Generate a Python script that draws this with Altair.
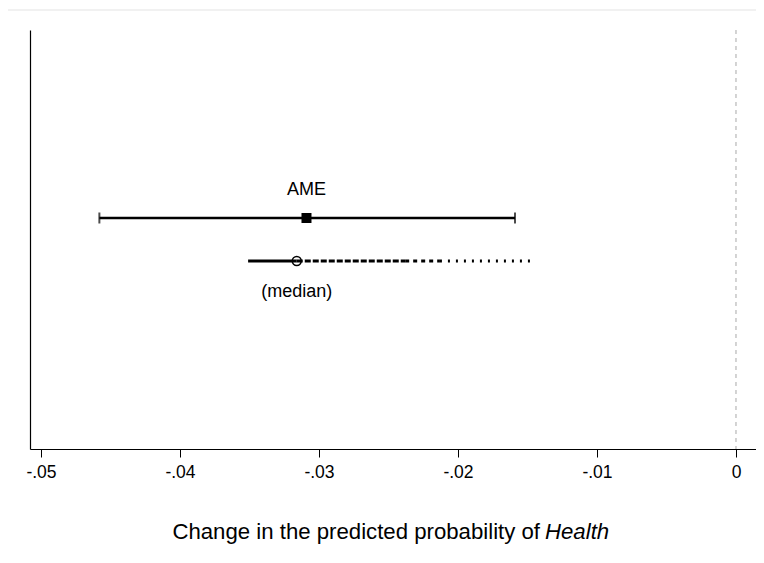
import altair as alt
import pandas as pd

# --- data ---
rows = ["AME", "(median)"]
row_pos = [2, 1]
est = [-0.0309, -0.0316]
lo = [-0.0458, -0.0351]
hi = [-0.0159, -0.0146]

# median interval drawn as segments of decreasing density
seg_from = [-0.0351, -0.0316, -0.0238, -0.0213]
seg_to = [-0.0316, -0.0238, -0.0213, -0.0146]
seg_style = ["solid", "dense", "sparse", "dotted"]

ticks = [-0.05, -0.04, -0.03, -0.02, -0.01, 0.0]
title_plain = "Change in the predicted probability of"
title_italic = "Health"

FONT = "Liberation Sans"

pts = pd.DataFrame({"row": rows, "y": row_pos, "est": est, "lo": lo, "hi": hi})
ame = pts[pts.row == "AME"]
med = pts[pts.row == "(median)"]
segs = pd.DataFrame({"x": seg_from, "x2": seg_to, "style": seg_style, "y": [1] * 4})

xscale = alt.Scale(domain=[-0.050791, 0.001439], nice=False, zero=False)
yscale = alt.Scale(domain=[-3.37, 6.37], nice=False, zero=False)

X = lambda f: alt.X(
    f,
    type="quantitative",
    scale=xscale,
    axis=alt.Axis(
        values=ticks,
        labelExpr="datum.value == 0 ? '0' : '-' + replace(format(abs(datum.value), '.2f'), '0.', '.')",
        title=None,
        grid=False,
        tickSize=8,
        tickColor="black",
        domainColor="black",
        labelFont=FONT,
        labelFontSize=17.5,
        labelColor="black",
        labelPadding=6,
        tickWidth=1,
        domainWidth=1.2,
    ),
)
Y = alt.Y(
    "y:Q",
    scale=yscale,
    axis=alt.Axis(labels=False, ticks=False, grid=False, title=None,
                  domainColor="black", domainWidth=1.2),
)

# faint outer frame of the graph region (top and left edges)
one = pd.DataFrame({"f": [0]})
frame_top = alt.Chart(one).mark_rule(color="#e3e3e3", strokeWidth=1).encode(
    x=alt.value(-24), x2=alt.value(726), y=alt.value(-20)
)
frame_left = alt.Chart(one).mark_rule(color="#e3e3e3", strokeWidth=1).encode(
    x=alt.value(-23.5), y=alt.value(-20), y2=alt.value(524)
)

zero = alt.Chart(pd.DataFrame({"z": [0.0]})).mark_rule(
    color="#a8a8a8", strokeDash=[4, 4], strokeWidth=1
).encode(x=X("z"))

ame_rule = alt.Chart(ame).mark_rule(color="black", strokeWidth=2.4).encode(
    x=X("lo"), x2="hi", y=Y
)
ame_caps = alt.Chart(
    pd.DataFrame({"v": lo[:1] + hi[:1], "y": [2, 2]})
).mark_tick(color="black", orient="vertical", size=11, thickness=2).encode(x=X("v"), y=Y)
ame_pt = alt.Chart(ame).mark_square(color="black", size=100, opacity=1).encode(
    x=X("est"), y=Y
)

med_segs = alt.Chart(segs).mark_rule(color="black", strokeWidth=3).encode(
    x=X("x"),
    x2="x2",
    y=Y,
    strokeDash=alt.StrokeDash(
        "style:N",
        scale=alt.Scale(
            domain=seg_style,
            range=[[1, 0], [6, 2], [4, 4], [2, 6]],
        ),
        legend=None,
    ),
)
med_pt = alt.Chart(med).mark_point(
    shape="circle", filled=False, color="black", size=80, strokeWidth=1.6, opacity=1
).encode(x=X("est"), y=Y)

ame_lbl = alt.Chart(ame).mark_text(
    font=FONT, fontSize=18, color="black", dy=-28
).encode(x=X("est"), y=Y, text="row:N")
med_lbl = alt.Chart(med).mark_text(
    font=FONT, fontSize=18, color="black", dy=31
).encode(x=X("est"), y=Y, text="row:N")

t1 = alt.Chart(pd.DataFrame({"t": [title_plain]})).mark_text(
    font=FONT, fontSize=22.2, color="black", align="right", baseline="alphabetic"
).encode(x=alt.value(510), y=alt.value(509), text="t:N")
t2 = alt.Chart(pd.DataFrame({"t": [title_italic]})).mark_text(
    font=FONT, fontSize=22.2, color="black", align="left", baseline="alphabetic",
    fontStyle="italic"
).encode(x=alt.value(515), y=alt.value(509), text="t:N")

chart = (
    alt.layer(frame_top, frame_left, zero, ame_rule, ame_caps, ame_pt, med_segs, med_pt,
              ame_lbl, med_lbl, t1, t2)
    .properties(
        width=726,
        height=419,
        background="white",
        autosize=alt.AutoSizeParams(type="none"),
        padding={"left": 22, "top": 22, "right": 0, "bottom": 105},
    )
    .configure_view(strokeWidth=0, stroke=None)
)

chart.save("out.html", embed_options={"renderer": "svg", "actions": False})
